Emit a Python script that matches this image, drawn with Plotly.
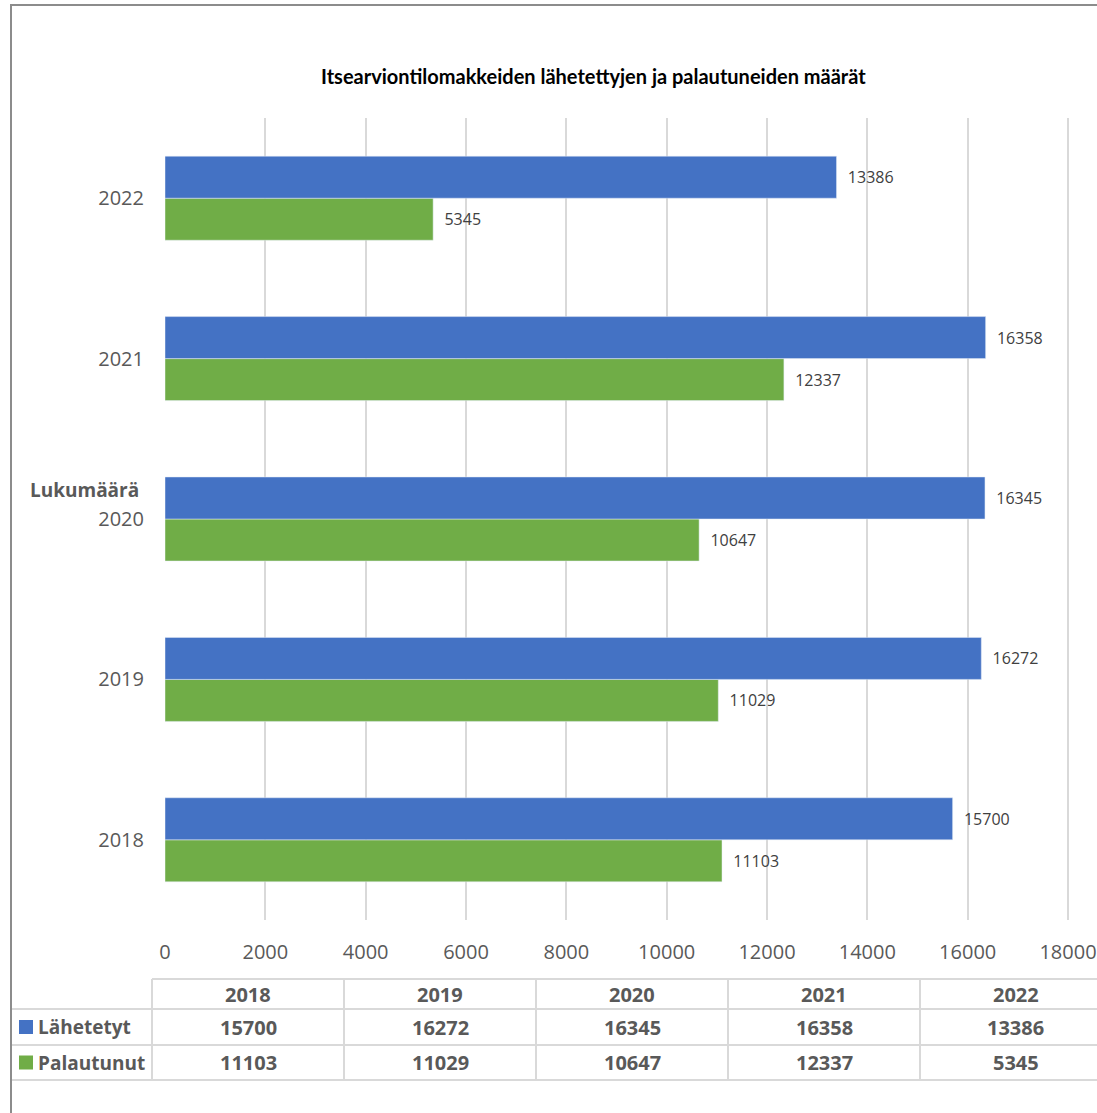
import plotly.graph_objects as go

years = ["2018", "2019", "2020", "2021", "2022"]
sent_name = "Lähetetyt"
returned_name = "Palautunut"
sent = [15700, 16272, 16345, 16358, 13386]
returned = [11103, 11029, 10647, 12337, 5345]
x_ticks = [0, 2000, 4000, 6000, 8000, 10000, 12000, 14000, 16000, 18000]
title_text = "Itsearviontilomakkeiden lähetettyjen ja palautuneiden määrät"
axis_title = "Lukumäärä"

W, H = 1097, 1113
BLUE = "#4472C4"
GREEN = "#70AD47"
TXT = "#595959"
FONT = "Open Sans"

def px(x):
    return x / W

def py(y):
    return 1 - y / H

fig = go.Figure()
label_font = dict(size=16, color="#404040", family=FONT)
fig.add_trace(go.Bar(y=years, x=returned, name=returned_name, orientation="h",
                     marker_color=GREEN, texttemplate="\u00a0\u00a0%{x}", textposition="outside",
                     textfont=label_font, cliponaxis=False))
fig.add_trace(go.Bar(y=years, x=sent, name=sent_name, orientation="h",
                     marker_color=BLUE, texttemplate="\u00a0\u00a0%{x}", textposition="outside",
                     textfont=label_font, cliponaxis=False))

shapes = []
annotations = []

# chart border
shapes.append(dict(type="rect", xref="paper", yref="paper",
                   x0=px(11), x1=px(1110), y0=py(1130), y1=py(5),
                   line=dict(color="#8c8c8c", width=2), fillcolor="rgba(0,0,0,0)"))

# data table
grid = "#d9d9d9"
col_edges = [152, 344, 536, 728, 920, 1112]
row_edges = [979, 1009, 1045, 1080]
shapes.append(dict(type="line", xref="paper", yref="paper", x0=px(152), x1=px(1112),
                   y0=py(row_edges[0]), y1=py(row_edges[0]), line=dict(color=grid, width=2)))
for ry in row_edges[1:]:
    shapes.append(dict(type="line", xref="paper", yref="paper", x0=px(12), x1=px(1112),
                       y0=py(ry), y1=py(ry), line=dict(color=grid, width=2)))
for cx in col_edges:
    shapes.append(dict(type="line", xref="paper", yref="paper", x0=px(cx), x1=px(cx),
                       y0=py(row_edges[0]), y1=py(row_edges[-1]), line=dict(color=grid, width=2)))

row_centers = [(row_edges[i] + row_edges[i + 1]) / 2 for i in range(3)]
for i, yr in enumerate(years):
    cx = (col_edges[i] + col_edges[i + 1]) / 2
    for val, rc in [(yr, row_centers[0]), (sent[i], row_centers[1]), (returned[i], row_centers[2])]:
        annotations.append(dict(xref="paper", yref="paper", x=px(cx), y=py(rc),
                                text=f"<b>{val}</b>", showarrow=False,
                                xanchor="center", yanchor="middle",
                                font=dict(size=20, color=TXT, family=FONT)))

for name, color, rc in [(sent_name, BLUE, row_centers[1]), (returned_name, GREEN, row_centers[2])]:
    shapes.append(dict(type="rect", xref="paper", yref="paper",
                       x0=px(19), x1=px(33), y0=py(rc + 7), y1=py(rc - 7),
                       fillcolor=color, line=dict(width=0)))
    annotations.append(dict(xref="paper", yref="paper", x=px(36), y=py(rc),
                            text=f"<b>{name}</b>", showarrow=False,
                            xanchor="left", yanchor="middle",
                            font=dict(size=19, color=TXT, family=FONT)))

annotations.append(dict(xref="paper", yref="paper", x=px(84), y=py(490),
                        text=f"<b>{axis_title}</b>", showarrow=False,
                        xanchor="center", yanchor="middle",
                        font=dict(size=19, color=TXT, family=FONT)))

annotations.append(dict(xref="paper", yref="paper", x=px(593), y=py(76),
                        text=f"<b>{title_text}</b>", showarrow=False,
                        xanchor="center", yanchor="middle",
                        font=dict(size=20, color="#000000", family="Lato")))

# x scale: 0 at px 165, 18000 at px 1068; extend range slightly so the last gridline shows
x_max = 18200
x_end_px = 165 + (1068 - 165) * x_max / 18000

fig.update_layout(
    width=W, height=H,
    margin=dict(l=0, r=0, t=0, b=0, autoexpand=False),
    paper_bgcolor="white", plot_bgcolor="white",
    barmode="group", bargap=0.476, bargroupgap=0,
    showlegend=False,
    shapes=shapes, annotations=annotations,
    font=dict(family=FONT, color=TXT),
)
fig.update_xaxes(domain=[px(165), px(x_end_px)], range=[0, x_max], tickvals=x_ticks,
                 tickformat="d", automargin=False,
                 showgrid=True, gridcolor=grid, gridwidth=1.5, zeroline=False,
                 showline=False, ticks="", ticklabelstandoff=18,
                 tickfont=dict(size=20, color=TXT, family=FONT))
fig.update_yaxes(domain=[py(920), py(118)], type="category", categoryorder="array",
                 categoryarray=years, automargin=False,
                 showgrid=False, zeroline=False, showline=False,
                 ticks="", ticklabelstandoff=20,
                 tickfont=dict(size=20, color=TXT, family=FONT))

fig.write_html("out.html", config={"displayModeBar": False},
               post_script="document.body.style.margin='0';document.body.style.overflow='hidden';")
